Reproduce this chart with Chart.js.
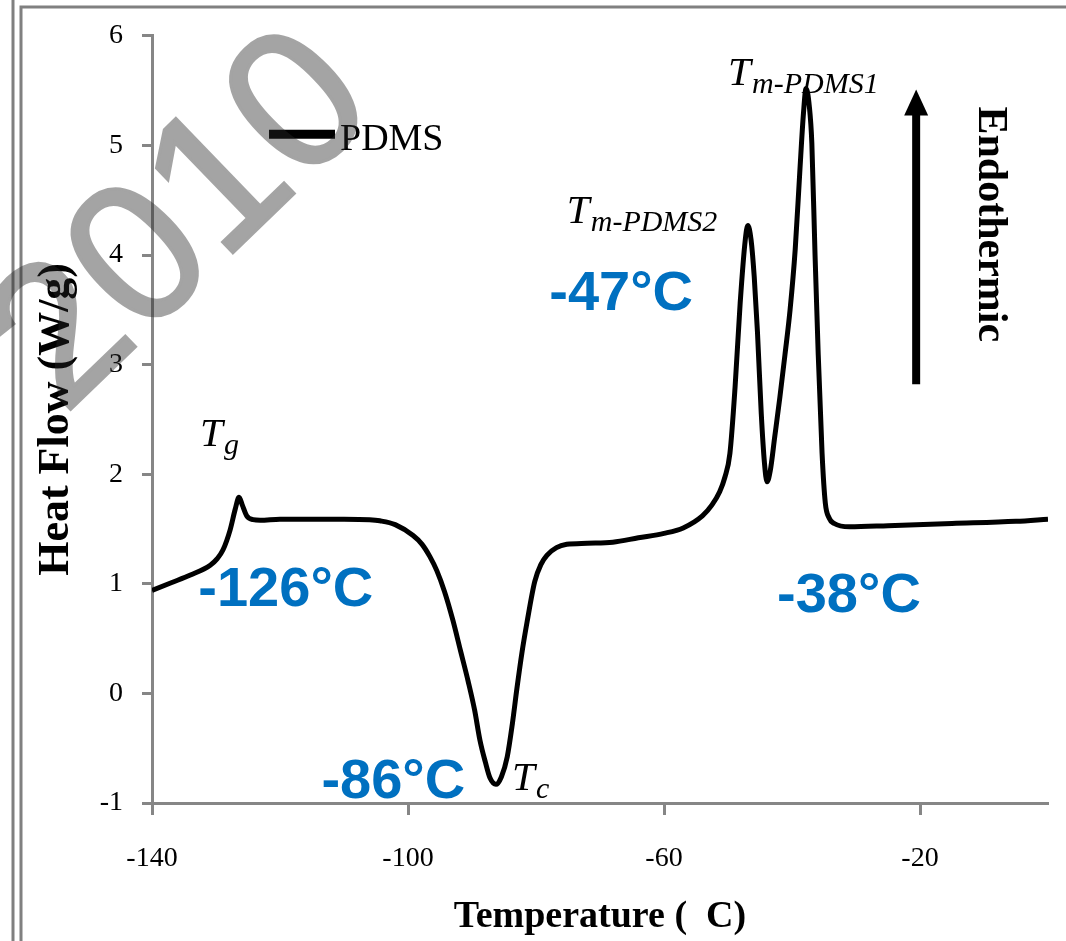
<!DOCTYPE html>
<html>
<head>
<meta charset="utf-8">
<title>PDMS DSC</title>
<script src="https://cdn.jsdelivr.net/npm/chart.js@4.4.0/dist/chart.umd.min.js"></script>
<style>
  html, body { margin: 0; padding: 0; background: #fff; overflow: hidden; }
  #wrap { width: 1066px; height: 941px; position: relative; }
  #wrap canvas { display: block; }
</style>
</head>
<body>
<div id="wrap"><canvas id="dsc-chart"></canvas></div>
<script>
// DSC heating trace of PDMS
const seriesLabel = 'PDMS';
const temperatures = [
  -140, -137, -134, -130.9, -129.8, -128.9, -127.8, -127.0, -126.4, -125.9,
  -125.2, -124.2, -123.1, -120, -115, -110, -106, -104.4, -102, -99.2,
  -97.8, -96.6, -95.5, -94.3, -93.0, -91.8, -90.6, -89.6, -88.75, -87.9,
  -87.2, -86.25, -85.4, -84.5, -83.7, -82.97, -82.2, -81.4, -80.2, -79.2,
  -78.3, -76.8, -75.2, -72, -68, -64, -60, -57, -54, -52.5,
  -51.3, -50.5, -49.7, -48.9, -48.1, -47.3, -46.9, -46.4, -45.9, -45.4,
  -44.8, -44.3, -43.9, -43.4, -42.7, -41.9, -41.1, -40.3, -39.5, -38.8,
  -38.2, -37.8, -37.3, -36.9, -36.4, -35.9, -35.3, -34.8, -34.2, -33.4,
  -31, -25, -15, -5, 0
];
const heatFlow = [
  0.94, 1.01, 1.08, 1.17, 1.23, 1.31, 1.49, 1.68, 1.79, 1.72,
  1.62, 1.585, 1.58, 1.59, 1.59, 1.59, 1.585, 1.575, 1.54, 1.44,
  1.36, 1.25, 1.12, 0.93, 0.67, 0.39, 0.11, -0.15, -0.43, -0.63,
  -0.77, -0.83, -0.76, -0.58, -0.28, 0.05, 0.37, 0.65, 1.02, 1.18,
  1.26, 1.33, 1.36, 1.37, 1.38, 1.42, 1.46, 1.51, 1.62, 1.72,
  1.84, 1.97, 2.19, 2.79, 3.56, 4.14, 4.27, 4.14, 3.80, 3.30,
  2.55, 2.10, 1.93, 2.03, 2.34, 2.70, 3.09, 3.50, 4.05, 4.74,
  5.30, 5.52, 5.36, 5.02, 4.00, 3.09, 2.19, 1.74, 1.60, 1.55,
  1.52, 1.53, 1.55, 1.57, 1.59
];
const xTickValues = [-140, -100, -60, -20];

// blue transition temperatures (centre x, baseline y in data units)
const tempLabels = ['-126°C', '-86°C', '-47°C', '-38°C'];
const tempLabelX = [-119.1, -102.3, -66.7, -31.1];
const tempLabelY = [0.80, -0.95, 3.50, 0.74];

// italic T symbols with subscripts (left x, baseline y in data units)
const symbolSubs = ['g', 'c', 'm-PDMS2', 'm-PDMS1'];
const symbolX = [-132.5, -83.75, -75.2, -50.0];
const symbolY = [2.26, -0.88, 4.29, 5.55];

// "Endothermic" arrow
const arrowX = -20.6;
const arrowFrom = 2.82;
const arrowTo = 5.51;
const arrowText = 'Endothermic';
const arrowTextX = -9.1;
const arrowTextY = 4.28;

const AXIS_GREY = '#868686';
const BLUE = '#0070C0';
const SERIF = '"Liberation Serif", "Times New Roman", serif';
const SANS = '"Liberation Sans", Arial, sans-serif';

const points = temperatures.map((t, i) => ({ x: t, y: heatFlow[i] }));

const framePlugin = {
  id: 'frame',
  beforeDraw(chart) {
    const { ctx, width, height } = chart;
    ctx.save();
    ctx.fillStyle = '#fff';
    ctx.fillRect(0, 0, width, height);
    ctx.strokeStyle = '#808080';
    ctx.lineWidth = 3;
    ctx.beginPath();
    ctx.moveTo(13, 0);
    ctx.lineTo(13, height);
    ctx.stroke();
    ctx.beginPath();
    ctx.moveTo(21, height);
    ctx.lineTo(21, 7);
    ctx.lineTo(width, 7);
    ctx.stroke();
    ctx.restore();
  }
};

const notesPlugin = {
  id: 'notes',
  afterDatasetsDraw(chart) {
    const { ctx, chartArea } = chart;
    const x = chart.scales.x;
    const y = chart.scales.y;
    ctx.save();

    // legend
    const lx = chartArea.left + 117;
    const ly = chartArea.top + 98.5;
    ctx.strokeStyle = '#000';
    ctx.lineWidth = 9;
    ctx.beginPath();
    ctx.moveTo(lx, ly);
    ctx.lineTo(lx + 66, ly);
    ctx.stroke();
    ctx.fillStyle = '#000';
    ctx.font = '38px ' + SERIF;
    ctx.textAlign = 'left';
    ctx.textBaseline = 'alphabetic';
    ctx.fillText(seriesLabel, lx + 71, ly + 15.5);

    // blue temperatures
    ctx.fillStyle = BLUE;
    ctx.font = 'bold 56px ' + SANS;
    ctx.textAlign = 'center';
    tempLabels.forEach((txt, i) => {
      ctx.fillText(txt, x.getPixelForValue(tempLabelX[i]), y.getPixelForValue(tempLabelY[i]));
    });

    // T symbols
    ctx.fillStyle = '#000';
    ctx.textAlign = 'left';
    symbolSubs.forEach((sub, i) => {
      const px = x.getPixelForValue(symbolX[i]);
      const py = y.getPixelForValue(symbolY[i]);
      ctx.font = 'italic 41px ' + SERIF;
      ctx.fillText('T', px, py);
      ctx.font = 'italic 30px ' + SERIF;
      ctx.fillText(sub, px + 24, py + 8);
    });

    // arrow
    const ax = x.getPixelForValue(arrowX);
    const a0 = y.getPixelForValue(arrowFrom);
    const a1 = y.getPixelForValue(arrowTo);
    ctx.strokeStyle = '#000';
    ctx.lineWidth = 8;
    ctx.beginPath();
    ctx.moveTo(ax, a0);
    ctx.lineTo(ax, a1 + 20);
    ctx.stroke();
    ctx.beginPath();
    ctx.moveTo(ax, a1);
    ctx.lineTo(ax - 12, a1 + 26);
    ctx.lineTo(ax + 12, a1 + 26);
    ctx.closePath();
    ctx.fill();

    ctx.translate(x.getPixelForValue(arrowTextX), y.getPixelForValue(arrowTextY));
    ctx.rotate(Math.PI / 2);
    ctx.font = 'bold 42px ' + SERIF;
    ctx.textAlign = 'center';
    ctx.textBaseline = 'middle';
    ctx.fillText(arrowText, 0, 0);
    ctx.restore();
  },
  afterDraw(chart) {
    // grey "2010" watermark across the top left corner
    const { ctx, width, height } = chart;
    const off = document.createElement('canvas');
    off.width = width;
    off.height = height;
    const oc = off.getContext('2d');
    oc.translate(184, 224);
    oc.rotate(-44 * Math.PI / 180);
    oc.font = '198px ' + SANS;
    oc.fillStyle = '#282828';
    oc.strokeStyle = '#282828';
    oc.lineWidth = 3;
    oc.textAlign = 'center';
    oc.textBaseline = 'middle';
    oc.fillText('2010', 0, 0);
    oc.strokeText('2010', 0, 0);
    ctx.save();
    ctx.globalAlpha = 0.42;
    ctx.drawImage(off, 0, 0);
    ctx.restore();
  }
};

new Chart(document.getElementById('dsc-chart'), {
  type: 'line',
  data: {
    datasets: [{
      label: seriesLabel,
      data: points,
      borderColor: '#000',
      borderWidth: 5,
      pointRadius: 0,
      cubicInterpolationMode: 'monotone',
      fill: false
    }]
  },
  options: {
    responsive: true,
    maintainAspectRatio: false,
    animation: false,
    devicePixelRatio: 1,
    layout: { padding: { top: 28, right: 18, left: 0, bottom: 0 } },
    plugins: {
      legend: { display: false },
      tooltip: { enabled: false }
    },
    scales: {
      x: {
        type: 'linear',
        min: -140,
        max: 0,
        afterBuildTicks: (scale) => {
          scale.ticks = xTickValues.map(v => ({ value: v }));
        },
        afterFit: (scale) => { scale.height = 138; },
        border: { color: AXIS_GREY, width: 3 },
        grid: {
          drawOnChartArea: false,
          tickLength: 12,
          tickWidth: 3,
          tickColor: AXIS_GREY
        },
        ticks: {
          color: '#000',
          padding: 27,
          maxRotation: 0,
          font: { family: SERIF, size: 28 }
        },
        title: {
          display: true,
          text: 'Temperature (  C)',
          color: '#000',
          padding: { top: 0, bottom: 1 },
          font: { family: SERIF, size: 38, weight: 'bold' }
        }
      },
      y: {
        min: -1,
        max: 6,
        afterFit: (scale) => { scale.width = 152; },
        border: { color: AXIS_GREY, width: 3 },
        grid: {
          drawOnChartArea: false,
          tickLength: 10,
          tickWidth: 3,
          tickColor: AXIS_GREY
        },
        ticks: {
          stepSize: 1,
          color: '#000',
          padding: 19,
          font: { family: SERIF, size: 28 }
        },
        title: {
          display: true,
          text: 'Heat Flow (W/g)',
          color: '#000',
          padding: { top: 30, bottom: 0 },
          font: { family: SERIF, size: 44, weight: 'bold' }
        }
      }
    }
  },
  plugins: [framePlugin, notesPlugin]
});
</script>
</body>
</html>
